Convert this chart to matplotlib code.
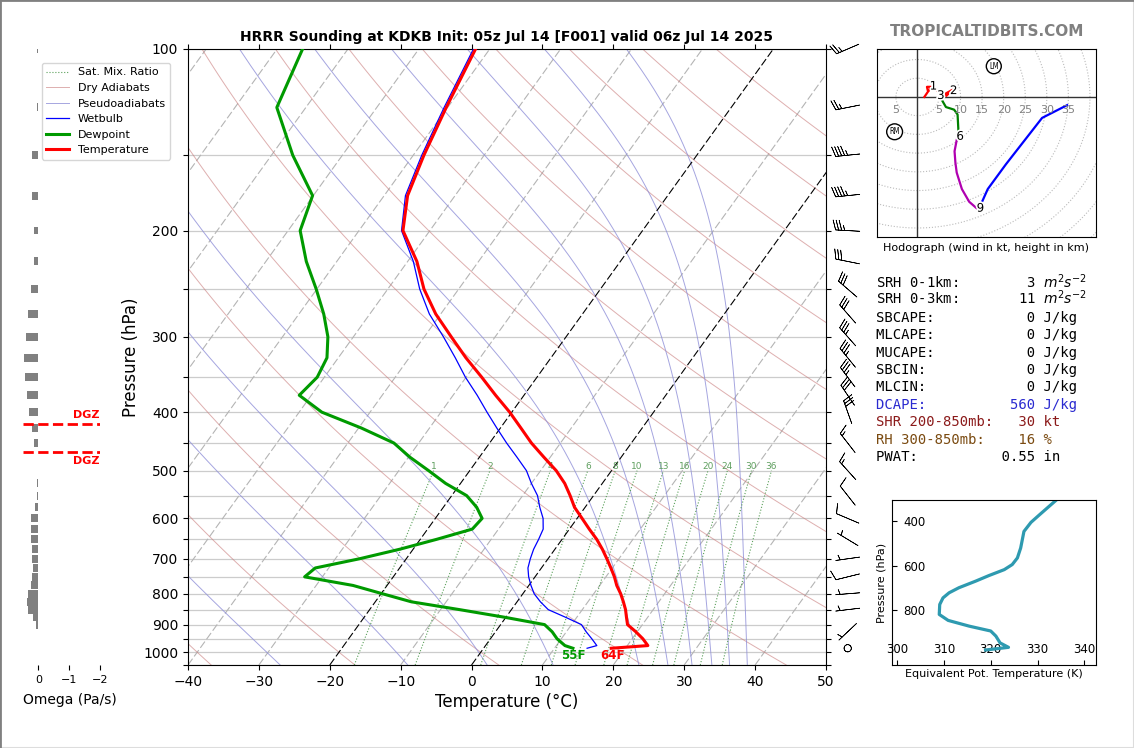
import numpy as np
import matplotlib
matplotlib.use('Agg')
import matplotlib.pyplot as plt
import matplotlib.patheffects as pe
from matplotlib.lines import Line2D
from matplotlib.transforms import Affine2D

W, H = 1134, 748

# ---- sounding data ----
pressure = [100,125,150,175,200,225,250,275,300,325,350,375,400,425,450,475,500,525,550,575,600,
            625,650,675,700,725,750,775,800,825,850,875,900,925,950,975,985]
temperature = [-62.0,-60.2,-58.5,-56.7,-53.8,-48.7,-44.9,-40.7,-36.2,-32.0,-27.8,-24.0,-20.3,-17.1,-14.1,
               -10.9,-7.8,-5.3,-3.3,-1.5,0.7,2.8,4.9,6.7,8.3,9.8,11.2,12.4,13.8,15.0,16.1,17.0,17.9,19.8,21.5,22.9,18.0]
dewpoint = [-86.4,-84.1,-77.0,-70.1,-68.3,-64.3,-60.1,-56.5,-53.6,-51.6,-51.0,-51.7,-46.8,-39.6,-33.5,
            -29.8,-25.8,-22.1,-17.9,-15.3,-13.4,-13.7,-17.7,-21.9,-26.6,-31.9,-32.5,-24.8,-19.8,-14.9,-7.3,-0.2,6.2,8.0,9.4,11.2,12.6]
wetbulb = [-62.3,-60.5,-58.8,-57.0,-54.0,-49.2,-45.5,-41.6,-37.3,-33.5,-30.1,-26.6,-23.5,-20.5,-17.6,
           -14.7,-12.0,-10.0,-7.9,-6.4,-4.8,-3.7,-3.3,-3.0,-2.5,-1.9,-0.9,0.3,1.6,3.3,5.2,8.4,11.4,12.8,14.3,15.7,14.6]

# ---- omega ----
omega_p = pressure[:-1] + [1000]
omega = [0.05,0.04,0.2,0.2,0.15,0.13,0.23,0.33,0.4,0.46,0.42,0.36,0.29,0.2,0.14,0.02,0.02,0.03,0.05,0.1,0.23,
         0.23,0.23,0.2,0.2,0.16,0.2,0.23,0.33,0.36,0.33,0.16,0.065,0.02,0.02,0.02,0.02]
dgz_p = [418, 466]

# ---- wind barbs (kt) ----
barb_p = [100,125,150,175,200,225,250,275,300,325,350,375,400,450,500,550,600,650,700,750,800,850,925,985]
barb_u = [23,24.5,44.8,44.8,35,29.4,22.7,19.8,23,22,21,17,10,9.2,10,6.2,9.2,4.3,5,9.7,5,5,3.6,0]
barb_v = [9.9,4.9,4.5,4.5,-2,-5.9,-19.6,-22.6,-26,-27,-28,-25,-28,-11.8,-11.1,-7.9,-3.9,-2.6,0.7,2.4,0.4,0.6,3.4,0]

# ---- hodograph ----
hodo_red_u = [1.6,3.2,2.2,2.4,3.9,5.9,8.1,6.7,5.5]
hodo_red_v = [0,2.7,2.7,1.7,2.3,0.5,1.9,0.3,0.5]
hodo_green_u = [5.7,6.6,8.5,9.3,9.5]
hodo_green_v = [-0.9,-2.7,-3.4,-4.7,-9.1]
hodo_mag_u = [9.1,8.6,8.8,9.1,10.3,12.0,13.7]
hodo_mag_v = [-11.5,-14.5,-17.6,-20.2,-24.6,-28.0,-29.7]
hodo_blue_u = [14.9,16.3,20.5,28.9,34.7]
hodo_blue_v = [-28.2,-24.6,-18.0,-5.6,-2.2]
hodo_heights = ['1','2','3','6','9']
hodo_h_u = [3.7,8.4,5.4,9.9,14.6]
hodo_h_v = [2.9,1.7,0.4,-10.5,-29.7]
storm_names = ['LM','RM']
storm_u = [17.7,-5.3]
storm_v = [8.2,-9.3]
ring_labels = [5,5,10,15,20,25,30,35]
ring_pos = [-5,5,10,15,20,25,30,35]

# ---- theta-e ----
thetae_p = [305,370,404,445,520,565,595,618,645,670,700,723,746,776,821,848,874,896,919,950,970,982]
thetae = [333.9,330.4,328.6,327.1,326.4,325.7,324.6,322.9,319.6,316.8,313.2,311.1,309.8,309.1,309.0,310.9,
          315.4,320.0,321.1,322.0,323.8,318.9]

# ---- stats ----
stats = [("SRH 0-1km:        3 $m^2s^{-2}$", 'black', 282),
         ("SRH 0-3km:       11 $m^2s^{-2}$", 'black', 298),
         ("SBCAPE:           0 J/kg", 'black', 318),
         ("MLCAPE:           0 J/kg", 'black', 335),
         ("MUCAPE:           0 J/kg", 'black', 353),
         ("SBCIN:            0 J/kg", 'black', 370),
         ("MLCIN:            0 J/kg", 'black', 387),
         ("DCAPE:          560 J/kg", '#2a2ad0', 405),
         ("SHR 200-850mb:   30 kt", '#8b1a1a', 422),
         ("RH 300-850mb:    16 %", '#7a4a10', 440),
         ("PWAT:          0.55 in", 'black', 457)]

# background line parameters
isotherms = list(range(-150, 51, 10))
dry_thetas = list(range(-40, 201, 20))
moist_starts = [-27, -9, 2.2, 11.5, 23.6, 27.7, 31.1, 33.9, 36.4, 38.9]
mix_ratios = [1, 2, 4, 6, 8, 10, 13, 16, 20, 24, 30, 36]


def pos(l, t, r, b):
    return [l / W, 1 - b / H, (r - l) / W, (b - t) / H]


fig = plt.figure(figsize=(W / 100, H / 100), dpi=100)
fig.add_artist(Line2D([1, 1], [0, 1], transform=fig.transFigure, color='#dddddd', lw=1.5))
fig.add_artist(Line2D([0, 1], [0, 0], transform=fig.transFigure, color='#dddddd', lw=1.5))
fig.add_artist(Line2D([0, 0], [0, 1], transform=fig.transFigure, color='gray', lw=2))
fig.add_artist(Line2D([0, 1], [1, 1], transform=fig.transFigure, color='gray', lw=2))

# ---------------- main skew-T ----------------
ax = fig.add_axes(pos(188, 49, 826, 665))
ax.set_yscale('log')
tr = ax.transData + Affine2D().translate(0, -(H - 665)).skew(np.arctan(0.72), 0).translate(0, H - 665)

pp = np.geomspace(1050, 100, 120)
DASH = (0, (7, 2.5))
for t in isotherms:
    if t in (0, -20):
        ax.plot([t, t], [1050, 100], transform=tr, color='black', ls=DASH, lw=0.8, zorder=2)
    else:
        ax.plot([t, t], [1050, 100], transform=tr, color='#b4b4b4', ls=DASH, lw=0.8, zorder=1)
for th in dry_thetas:
    ax.plot((th + 273.15) * (pp / 1000) ** 0.2857 - 273.15, pp, transform=tr, color='#c87a7a', alpha=0.6, lw=0.7, zorder=1)


def moist_adiabat(t0, plev):
    out = [t0 + 273.15]
    for p0, p1 in zip(plev[:-1], plev[1:]):
        T = out[-1]
        es = 6.112 * np.exp(17.67 * (T - 273.15) / (T - 29.65))
        rs = 0.622 * es / (p0 - es)
        g = (287.0 * T + 2.5e6 * rs) / (1004.0 + 2.5e6 ** 2 * rs * 0.622 / (287.0 * T ** 2))
        out.append(T + g * np.log(p1 / p0))
    return np.array(out) - 273.15


pm = np.geomspace(1050, 100, 400)
for t0 in moist_starts:
    ax.plot(moist_adiabat(t0, pm), pm, transform=tr, color='#8f8fd8', alpha=0.8, lw=0.7, zorder=1)

pw = np.geomspace(1050, 500, 30)
for w in mix_ratios:
    e = w * pw / (622 + w)
    td = 243.5 * np.log(e / 6.112) / (17.67 - np.log(e / 6.112))
    ax.plot(td, pw, transform=tr, color='#5aa05a', ls=':', lw=0.8, zorder=1)
    ax.text(td[-1], 500, str(w), transform=tr, color='#5f9f5f', fontsize=6.5, ha='center', va='bottom')

l_w, = ax.plot(wetbulb, pressure, transform=tr, color='blue', lw=0.9, zorder=3)
l_d, = ax.plot(dewpoint, pressure, transform=tr, color='#009a00', lw=2.2, zorder=4)
l_t, = ax.plot(temperature, pressure, transform=tr, color='red', lw=2.2, zorder=5)

ax.annotate('64F', (temperature[-1], pressure[-1]), xycoords=tr, xytext=(1, -5), textcoords='offset points',
            color='red', fontsize=8.5, fontweight='bold', ha='center', va='center', zorder=6)
ax.annotate('55F', (dewpoint[-1], pressure[-1]), xycoords=tr, xytext=(0, -5), textcoords='offset points',
            color='#009a00', fontsize=8.5, fontweight='bold', ha='center', va='center', zorder=6)

ax.barbs(np.full(len(barb_p), 1.034), barb_p, barb_u, barb_v, transform=ax.get_yaxis_transform(),
         clip_on=False, length=5.9, pivot='middle', linewidth=0.5, color='black', zorder=6)

ax.set_xlim(-40, 50)
ax.set_ylim(1050, 100)
ax.set_xticks(range(-40, 51, 10))
yt = list(range(100, 1051, 50))
ax.set_yticks(yt)
ax.set_yticklabels([str(v) if v % 100 == 0 else '' for v in yt])
ax.yaxis.set_minor_locator(matplotlib.ticker.NullLocator())
ax.yaxis.set_minor_formatter(matplotlib.ticker.NullFormatter())
ax.tick_params(axis='y', right=True, labelsize=10)
ax.tick_params(axis='x', top=True, labelsize=10)
ax.grid(axis='y', color='#cccccc', lw=0.9)
ax.set_axisbelow(True)
ax.set_xlabel('Temperature (°C)', fontsize=12, labelpad=3)
ax.set_ylabel('Pressure (hPa)', fontsize=12, labelpad=2)
ax.set_title('HRRR Sounding at KDKB Init: 05z Jul 14 [F001] valid 06z Jul 14 2025', fontsize=10, fontweight='bold', pad=6)

# ---------------- omega ----------------
ao = fig.add_axes(pos(23, 49, 100, 665))
ao.patch.set_alpha(0)
ao.set_yscale('log')
ao.barh(omega_p, omega, height=np.array(omega_p) * 0.03, color='gray')
ao.set_xlim(0.5, -2)
ao.set_ylim(1050, 100)
for p_ in dgz_p:
    ao.plot([0.5, -2], [p_, p_], color='red', ls='--', lw=2)
ao.annotate('DGZ', (-2, dgz_p[0]), xytext=(0, 3), textcoords='offset points', color='red', fontsize=8,
            fontweight='bold', ha='right', va='bottom')
ao.annotate('DGZ', (-2, dgz_p[1]), xytext=(0, -2.5), textcoords='offset points', color='red', fontsize=8,
            fontweight='bold', ha='right', va='top')
for s in ao.spines.values():
    s.set_visible(False)
ao.set_yticks([])
ao.yaxis.set_minor_locator(matplotlib.ticker.NullLocator())
ao.set_xticks([0, -1, -2])
ao.tick_params(axis='x', labelsize=8)
ao.set_xlabel('Omega (Pa/s)', fontsize=10)
ao.xaxis.set_label_coords(0.61, -0.045)

# ---------------- legend ----------------
hm, = ax.plot([], [], color='#5aa05a', ls=':', lw=0.8)
hd, = ax.plot([], [], color='#c87a7a', alpha=0.6, lw=0.7)
hp, = ax.plot([], [], color='#8f8fd8', alpha=0.8, lw=0.7)
fig.legend([hm, hd, hp, l_w, l_d, l_t],
           ['Sat. Mix. Ratio', 'Dry Adiabats', 'Pseudoadiabats', 'Wetbulb', 'Dewpoint', 'Temperature'],
           loc='upper left', bbox_to_anchor=(42 / W, 1 - 63 / H), borderaxespad=0, fontsize=8)

# ---------------- hodograph ----------------
ah = fig.add_axes(pos(876.5, 49, 1096, 237))
th_ = np.linspace(0, 2 * np.pi, 240)
for r in range(5, 61, 5):
    ah.plot(r * np.cos(th_), r * np.sin(th_), color='#bbbbbb', ls=':', lw=0.8, zorder=1)
ah.axhline(0, color='#333333', lw=1, zorder=2)
ah.axvline(0, color='#333333', lw=1, zorder=2)
ah.plot(hodo_red_u, hodo_red_v, color='red', lw=1.6, zorder=3)
ah.plot(hodo_green_u, hodo_green_v, color='green', lw=1.6, zorder=3)
ah.plot(hodo_mag_u, hodo_mag_v, color='#b000b0', lw=1.6, zorder=3)
ah.plot(hodo_blue_u, hodo_blue_v, color='blue', lw=1.6, zorder=3)
for lab, r in zip(ring_labels, ring_pos):
    ah.text(r, -3.4, str(lab), color='gray', fontsize=8, ha='center', va='center', zorder=4)
for lab, u, v in zip(hodo_heights, hodo_h_u, hodo_h_v):
    ah.text(u, v, lab, color='black', fontsize=8.5, ha='center', va='center', zorder=5,
            path_effects=[pe.withStroke(linewidth=2.5, foreground='white')])
for lab, u, v in zip(storm_names, storm_u, storm_v):
    ah.text(u, v, lab, color='black', fontsize=5.5, ha='center', va='center', zorder=5, stretch='condensed',
            bbox=dict(boxstyle='circle,pad=0.35', fc='white', ec='black', lw=1))
ah.set_xlim(-9.5, 41.4)
ah.set_ylim(-37.4, 12.8)
ah.set_xticks([])
ah.set_yticks([])
ah.set_xlabel('Hodograph (wind in kt, height in km)', fontsize=8, labelpad=4)

fig.text(987 / W, 1 - 31 / H, 'TROPICALTIDBITS.COM', color='gray', fontsize=11, fontweight='bold', ha='center', va='center')

# ---------------- stats ----------------
for s, c, y in stats:
    fig.text(876 / W, 1 - y / H, s, color=c, family='DejaVu Sans Mono', fontsize=10, ha='left', va='center')

# ---------------- theta-e ----------------
ae = fig.add_axes(pos(892, 500.3, 1096, 665))
ae.plot(thetae, thetae_p, color='#2e9ab0', lw=2.3)
ae.set_xlim(298.9, 342.5)
ae.set_ylim(1050, 304)
ae.set_xticks(range(300, 341, 10))
ae.set_yticks([400, 600, 800])
ae.tick_params(axis='x', direction='in', labelsize=8.5, pad=-16)
ae.tick_params(axis='y', direction='in', labelsize=8.5, pad=-24)
ae.set_xlabel('Equivalent Pot. Temperature (K)', fontsize=8, labelpad=3)
ae.set_ylabel('Pressure (hPa)', fontsize=8, labelpad=4)

fig.savefig('out.png', dpi=100)
